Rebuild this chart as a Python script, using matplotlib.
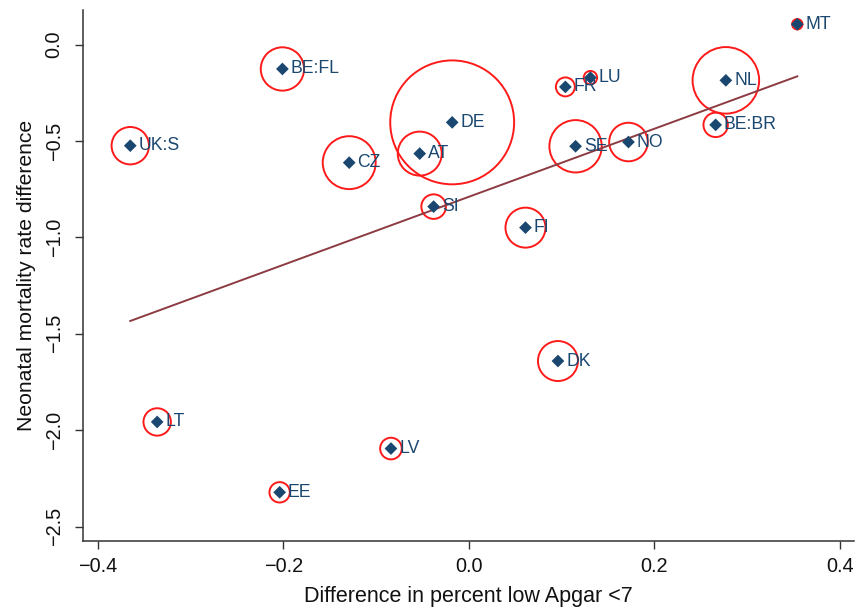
import numpy as np
import matplotlib
matplotlib.use("Agg")
import matplotlib.pyplot as plt

plt.rcParams["font.family"] = ["Liberation Sans", "DejaVu Sans"]

# Country-level differences
countries = ["UK:S", "BE:FL", "DE", "CZ", "AT", "SI", "FI", "FR", "LU",
             "SE", "NO", "NL", "BE:BR", "MT", "LT", "EE", "LV", "DK"]
apgar_diff = [-0.365, -0.201, -0.018, -0.129, -0.053, -0.038, 0.061, 0.104, 0.131,
              0.115, 0.172, 0.277, 0.266, 0.354, -0.336, -0.204, -0.084, 0.096]
nmr_diff = [-0.524, -0.126, -0.403, -0.612, -0.565, -0.840, -0.949, -0.219, -0.171,
            -0.527, -0.505, -0.185, -0.416, 0.106, -1.957, -2.322, -2.095, -1.641]
# relative weights (circle area)
weights = [350, 470, 3844, 702, 484, 151, 400, 90, 45,
           686, 372, 1109, 149, 27, 188, 104, 117, 400]

# weighted fit line
fit_slope = 1.765
fit_intercept = -0.789

NAVY = "#1a476f"
RED = "#ff1a1a"
MAROON = "#8c3b42"

fig = plt.figure(figsize=(8.66, 6.12), dpi=100)
ax = fig.add_axes([0.0958, 0.1165, 0.8902, 0.8672])

x = np.array(apgar_diff)
y = np.array(nmr_diff)
w = np.array(weights)

ax.scatter(x, y, s=w * 2.07, facecolors="none", edgecolors=RED, linewidths=1.4, zorder=2)

xf = np.array([x.min(), x.max()])
ax.plot(xf, fit_intercept + fit_slope * xf, color=MAROON, linewidth=1.4, zorder=3)

ax.scatter(x, y, marker="D", s=42, color=NAVY, edgecolors="none", zorder=4)
for cx, cy, name in zip(x, y, countries):
    ax.annotate(name, (cx, cy), xytext=(6, 0), textcoords="offset points",
                va="center", ha="left", color=NAVY, fontsize=12.7, zorder=5)

ax.set_xlim(-0.416, 0.415)
ax.set_ylim(-2.573, 0.18)
ax.set_xticks([-0.4, -0.2, 0.0, 0.2, 0.4])
ax.set_xticklabels(["\u22120.4", "\u22120.2", "0.0", "0.2", "0.4"])
ax.set_yticks([0.0, -0.5, -1.0, -1.5, -2.0, -2.5])
ax.set_yticklabels(["0.0", "\u22120.5", "\u22121.0", "\u22121.5", "\u22122.0", "\u22122.5"],
                   rotation=90, va="center")
ax.tick_params(axis="both", direction="out", length=6, width=1, color="#333333",
               labelsize=14.3, labelcolor="#111111")
ax.tick_params(axis="x", pad=6)
ax.tick_params(axis="y", pad=8)

for side in ["top", "right"]:
    ax.spines[side].set_visible(False)
for side in ["left", "bottom"]:
    ax.spines[side].set_color("#333333")
    ax.spines[side].set_linewidth(1.1)

ax.set_xlabel("Difference in percent low Apgar <7", fontsize=15.5, color="#111111", labelpad=7)
ax.set_ylabel("Neonatal mortality rate difference", fontsize=15.2, color="#111111", labelpad=6)

fig.savefig("out.png", dpi=100)
